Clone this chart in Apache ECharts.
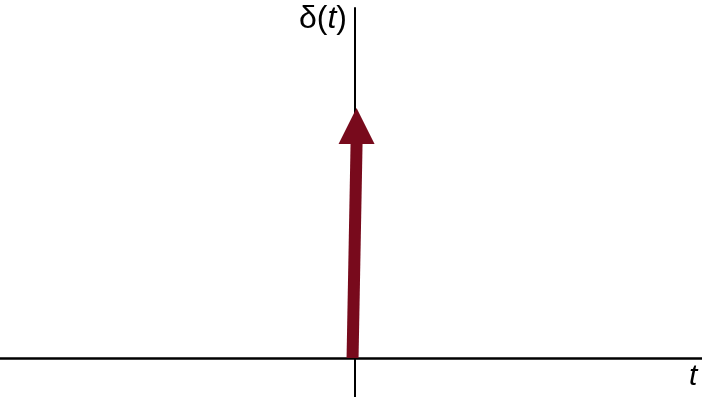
<!DOCTYPE html>
<html>
<head>
<meta charset="utf-8">
<script src="https://cdn.jsdelivr.net/npm/echarts@6/dist/echarts.min.js"></script>
<style>
  html, body { margin: 0; padding: 0; background: #fff; }
  #app { width: 702px; height: 397px; }
</style>
</head>
<body>
<div id="app"></div>
<script>
// unit impulse at t = 0
const impulseT = [0];
const impulseHeight = [1];
const yLabel = ['δ(', 't', ')'];
const xLabel = 't';

const arrowColor = '#780a1c';

const chart = echarts.init(document.getElementById('app'));

const renderArrow = (params, api) => {
  const base = api.coord([api.value(0), 0]);
  const tip = api.coord([api.value(0), api.value(1)]);
  const headLen = 36, headHalf = 18, shaftHalf = 6;
  const lean = 2; // shaft leans slightly to the right, as in the drawing
  const neckY = tip[1] + headLen;
  return {
    type: 'group',
    children: [
      {
        type: 'polygon',
        shape: {
          points: [
            [base[0] - shaftHalf - lean, base[1]],
            [base[0] + shaftHalf - lean, base[1]],
            [tip[0] + shaftHalf + lean, neckY],
            [tip[0] - shaftHalf + lean, neckY]
          ]
        },
        style: { fill: arrowColor }
      },
      {
        type: 'polygon',
        shape: {
          points: [
            [tip[0] + lean, tip[1]],
            [tip[0] + lean + headHalf, neckY],
            [tip[0] + lean - headHalf, neckY]
          ]
        },
        style: { fill: arrowColor }
      }
    ]
  };
};

chart.setOption({
  animation: false,
  grid: { left: 0, right: 0, top: 8, bottom: 0 },
  xAxis: {
    type: 'value',
    min: -1,
    max: 0.98,
    axisLine: { onZero: true, lineStyle: { color: '#000', width: 2.5 } },
    axisTick: { show: false },
    axisLabel: { show: false },
    splitLine: { show: false }
  },
  yAxis: {
    type: 'value',
    min: -0.156,
    max: 1.4,
    axisLine: { onZero: true, lineStyle: { color: '#000', width: 2 } },
    axisTick: { show: false },
    axisLabel: { show: false },
    splitLine: { show: false }
  },
  graphic: [
    {
      type: 'text',
      left: 299,
      top: 3,
      style: {
        text: '{a|' + yLabel[0] + '}{b|' + yLabel[1] + '}{a|' + yLabel[2] + '}',
        rich: {
          a: { fontFamily: 'Liberation Sans', fontSize: 32, color: '#000' },
          b: { fontFamily: 'Liberation Sans', fontSize: 32, fontStyle: 'italic', color: '#000' }
        }
      }
    },
    {
      type: 'text',
      left: 689,
      top: 362,
      style: {
        text: xLabel,
        fontFamily: 'Liberation Sans',
        fontSize: 30,
        fontStyle: 'italic',
        fill: '#000'
      }
    }
  ],
  series: [
    {
      type: 'custom',
      renderItem: renderArrow,
      data: impulseT.map((t, i) => [t, impulseHeight[i]]),
      z: 3
    }
  ]
});
</script>
</body>
</html>
